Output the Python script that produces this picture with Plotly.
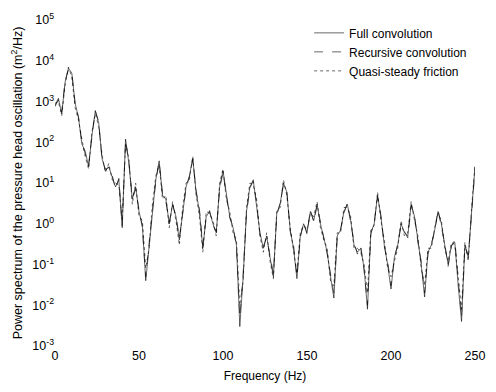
import plotly.graph_objects as go

freq = list(range(0, 251, 2))

full_conv = [
    800, 1200, 500, 3000, 6500, 5000, 900, 400, 90, 60,
    25, 150, 600, 300, 40, 20, 25, 15, 8, 12,
    0.8, 120, 30, 4, 8, 2, 0.9, 0.04, 0.3, 2.5,
    12, 35, 5, 4, 1, 3, 1.5, 0.4, 2, 8,
    15, 40, 6, 2, 0.25, 1.5, 2, 1, 0.6, 8,
    20, 5, 1.5, 0.8, 0.3, 0.003, 0.05, 2, 8, 12,
    3, 0.6, 0.25, 0.5, 0.15, 0.05, 1.8, 3, 10, 6,
    0.7, 0.25, 0.045, 0.5, 1, 0.6, 2, 1.2, 3, 1,
    0.45, 0.2, 0.05, 0.015, 0.5, 0.7, 2, 3, 1.2, 0.3,
    0.2, 0.25, 0.08, 0.008, 0.6, 1, 5, 1.5, 0.3, 0.1,
    0.025, 0.15, 0.3, 1, 0.6, 0.5, 3, 1.5, 0.4, 0.1,
    0.016, 0.2, 0.3, 0.7, 2, 1, 0.3, 0.1, 0.3, 0.35,
    0.03, 0.004, 0.3, 0.15, 2, 25,
]

recursive_conv = [
    750, 1100, 550, 3200, 6000, 5200, 850, 420, 95, 55,
    28, 140, 580, 320, 38, 22, 24, 16, 7, 13,
    0.9, 110, 32, 4.5, 7, 2.2, 0.8, 0.05, 0.35, 2.2,
    11, 33, 5.5, 3.5, 1.1, 2.8, 1.6, 0.45, 1.8, 7.5,
    14, 38, 6.5, 2.2, 0.3, 1.4, 2.1, 0.9, 0.65, 7,
    18, 5.5, 1.4, 0.85, 0.28, 0.005, 0.06, 1.8, 7.5, 11,
    3.2, 0.55, 0.28, 0.45, 0.18, 0.06, 1.6, 3.2, 9, 6.5,
    0.65, 0.3, 0.05, 0.45, 1.1, 0.55, 2.2, 1.1, 2.8, 1.1,
    0.5, 0.18, 0.06, 0.02, 0.45, 0.75, 1.8, 3.2, 1.1, 0.35,
    0.18, 0.28, 0.07, 0.01, 0.55, 1.1, 4.5, 1.6, 0.28, 0.12,
    0.03, 0.14, 0.32, 0.9, 0.65, 0.45, 2.8, 1.6, 0.35, 0.12,
    0.02, 0.18, 0.32, 0.65, 2.2, 0.9, 0.32, 0.09, 0.28, 0.4,
    0.035, 0.005, 0.28, 0.17, 1.8, 22,
]

quasi_steady = [
    900, 1000, 450, 2500, 7000, 4000, 700, 350, 120, 45,
    22, 180, 500, 250, 50, 18, 30, 12, 10, 9,
    1.2, 90, 40, 3, 10, 1.5, 1.2, 0.08, 0.25, 3,
    15, 28, 4, 5, 0.8, 3.5, 1.2, 0.3, 2.5, 10,
    12, 45, 5, 1.5, 0.2, 2, 1.8, 1.2, 0.5, 10,
    22, 4, 2, 0.6, 0.4, 0.01, 0.04, 2.5, 10, 9,
    4, 0.5, 0.2, 0.6, 0.12, 0.045, 2, 2.5, 12, 5,
    0.8, 0.2, 0.06, 0.6, 0.9, 0.7, 1.8, 1.5, 3.5, 0.8,
    0.4, 0.25, 0.04, 0.03, 0.6, 0.6, 2.5, 2.5, 1.5, 0.25,
    0.25, 0.2, 0.1, 0.02, 0.7, 0.9, 6, 1.2, 0.4, 0.08,
    0.05, 0.12, 0.25, 1.2, 0.5, 0.6, 3.5, 1.2, 0.5, 0.08,
    0.03, 0.25, 0.25, 0.8, 1.8, 1.2, 0.25, 0.12, 0.35, 0.3,
    0.05, 0.008, 0.35, 0.12, 2.5, 28,
]

y_tickvals = [1e-3, 1e-2, 1e-1, 1e0, 1e1, 1e2, 1e3, 1e4, 1e5]
y_ticktext = ["10<sup>-3</sup>", "10<sup>-2</sup>", "10<sup>-1</sup>", "10<sup>0</sup>",
              "10<sup>1</sup>", "10<sup>2</sup>", "10<sup>3</sup>", "10<sup>4</sup>",
              "10<sup>5</sup>"]
x_tickvals = [0, 50, 100, 150, 200, 250]

series = [
    ("Full convolution", full_conv, "solid"),
    ("Recursive convolution", recursive_conv, "dash"),
    ("Quasi-steady friction", quasi_steady, "dot"),
]

fig = go.Figure()
for name, vals, dash in series:
    fig.add_trace(go.Scatter(
        x=freq, y=vals, mode="lines", name=name,
        line=dict(color="black", width=0.6, dash=dash),
    ))

font_family = "Liberation Sans, Arial, sans-serif"
fig.update_layout(
    width=496, height=392,
    margin=dict(l=55, r=11, t=16, b=44),
    paper_bgcolor="white", plot_bgcolor="white",
    font=dict(family=font_family, size=12, color="black"),
    showlegend=True,
    legend=dict(x=0.605, y=1.005, xanchor="left", yanchor="top",
                bgcolor="rgba(0,0,0,0)", font=dict(size=12),
                itemwidth=30, tracegroupgap=0),
    xaxis=dict(range=[0, 250], tickvals=x_tickvals, showgrid=False,
               zeroline=False, showline=False, ticks="",
               tickfont=dict(size=12.5),
               title=dict(text="Frequency (Hz)", standoff=10, font=dict(size=12))),
    yaxis=dict(type="log", range=[-3, 5], tickvals=y_tickvals, ticktext=y_ticktext,
               showgrid=False, zeroline=False, showline=False, ticks="",
               tickfont=dict(size=12.5),
               title=dict(text="Power spectrum of the pressure head oscillation (m<sup>2</sup>/Hz)",
                          standoff=6, font=dict(size=12.5))),
)

fig.write_html("out.html")
